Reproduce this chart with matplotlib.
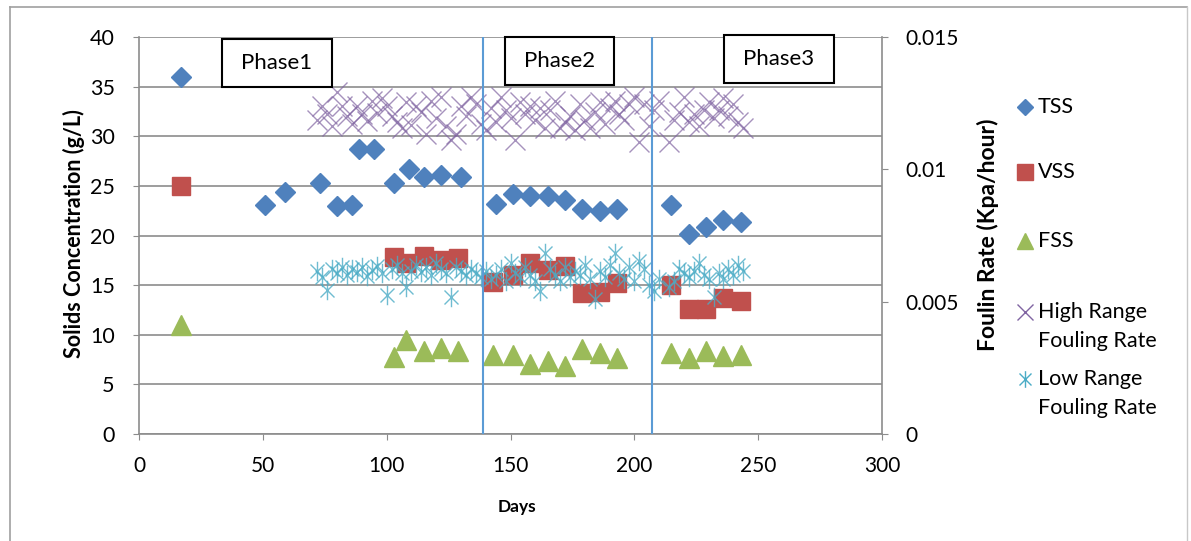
import matplotlib.pyplot as plt
from matplotlib.path import Path
from matplotlib.patches import Rectangle
from matplotlib.lines import Line2D

plt.rcParams["font.family"] = ["Lato", "DejaVu Sans"]

# solids data (g/L)
tss_days = [17, 51, 59, 73, 80, 86, 89, 95, 103, 109, 115, 122, 130, 144, 151, 158,
            165, 172, 179, 186, 193, 215, 222, 229, 236, 243]
tss = [36.0, 23.1, 24.4, 25.3, 23.0, 23.1, 28.7, 28.7, 25.3, 26.7, 25.9, 26.1, 25.9,
       23.2, 24.2, 24.0, 24.0, 23.6, 22.7, 22.5, 22.7, 23.1, 20.2, 20.9, 21.6, 21.4]
solids_days = [17, 103, 108, 115, 122, 129, 143, 151, 158, 165, 172, 179, 186, 193,
               215, 222, 229, 236, 243]
vss = [25.0, 17.8, 17.2, 17.9, 17.5, 17.7, 15.3, 16.0, 17.2, 16.5, 16.9, 14.2, 14.3,
       15.2, 15.0, 12.6, 12.6, 13.7, 13.4]
fss = [11.0, 7.8, 9.5, 8.4, 8.7, 8.4, 8.0, 8.0, 7.1, 7.4, 6.9, 8.6, 8.2, 7.7, 8.2,
       7.7, 8.4, 7.9, 8.0]

# fouling rates (Kpa/hour)
fouling_days = [72, 74, 76, 78, 80, 82, 84, 86, 88, 90, 92, 94, 96, 98, 100, 102, 104,
                106, 108, 110, 112, 114, 116, 118, 120, 122, 124, 126, 128, 130, 132,
                134, 136, 138, 140, 142, 144, 146, 148, 150, 152, 154, 156, 158, 160,
                162, 164, 166, 168, 170, 172, 174, 176, 178, 180, 182, 184, 186, 188,
                190, 192, 194, 196, 198, 200, 202, 204, 206, 208, 210, 214, 216, 218,
                220, 222, 224, 226, 228, 230, 232, 234, 236, 238, 240, 242, 244]
high_rate = [0.01185, 0.01238, 0.01208, 0.01163, 0.01294, 0.01238, 0.01200, 0.01170,
             0.01238, 0.01208, 0.01181, 0.01260, 0.01211, 0.01268, 0.01238, 0.01200,
             0.01178, 0.01155, 0.01256, 0.01166, 0.01238, 0.01215, 0.01133, 0.01260,
             0.01193, 0.01275, 0.01163, 0.01110, 0.01133, 0.01238, 0.01200, 0.01275,
             0.01245, 0.01170, 0.01148, 0.01230, 0.01178, 0.01275, 0.01223, 0.01193,
             0.01110, 0.01253, 0.01208, 0.01238, 0.01185, 0.01230, 0.01155, 0.01223,
             0.01260, 0.01155, 0.01178, 0.01200, 0.01148, 0.01245, 0.01185, 0.01155,
             0.01215, 0.01253, 0.01170, 0.01230, 0.01260, 0.01208, 0.01185, 0.01245,
             0.01275, 0.01103, 0.01245, 0.01163, 0.01223, 0.01260, 0.01103, 0.01185,
             0.01215, 0.01275, 0.01178, 0.01208, 0.01163, 0.01223, 0.01253, 0.01193,
             0.01223, 0.01268, 0.01200, 0.01245, 0.01178, 0.01155]
low_rate = [0.00615, 0.00593, 0.00544, 0.00623, 0.00608, 0.00630, 0.00600, 0.00623,
            0.00611, 0.00630, 0.00596, 0.00619, 0.00634, 0.00608, 0.00525, 0.00623,
            0.00638, 0.00608, 0.00555, 0.00615, 0.00638, 0.00611, 0.00630, 0.00600,
            0.00645, 0.00623, 0.00608, 0.00518, 0.00630, 0.00615, 0.00600, 0.00623,
            0.00608, 0.00593, 0.00615, 0.00585, 0.00600, 0.00623, 0.00578, 0.00645,
            0.00608, 0.00593, 0.00630, 0.00600, 0.00578, 0.00540, 0.00683, 0.00623,
            0.00600, 0.00578, 0.00630, 0.00593, 0.00615, 0.00600, 0.00638, 0.00585,
            0.00510, 0.00615, 0.00593, 0.00638, 0.00683, 0.00608, 0.00585, 0.00630,
            0.00578, 0.00653, 0.00623, 0.00563, 0.00540, 0.00585, 0.00555, 0.00578,
            0.00623, 0.00608, 0.00593, 0.00615, 0.00645, 0.00600, 0.00585, 0.00518,
            0.00608, 0.00585, 0.00623, 0.00600, 0.00638, 0.00615]

phase_bounds = [139, 207]
phase_labels = ["Phase1", "Phase2", "Phase3"]
legend_labels = ["TSS", "VSS", "FSS", "High Range\nFouling Rate", "Low Range\nFouling Rate"]

c_tss, c_vss, c_fss = "#4F81BD", "#C0504D", "#9BBB59"
c_high, c_low = "#8064A2", "#4BACC6"
grid_c = "#8c8c8c"

asterisk = Path([(0, -1), (0, 1), (-0.72, -0.72), (0.72, 0.72), (-0.72, 0.72), (0.72, -0.72)],
                [Path.MOVETO, Path.LINETO] * 3)

W, H = 1191, 541
fig = plt.figure(figsize=(W / 100, H / 100), dpi=100)
ax = fig.add_axes([139 / W, 1 - 434 / H, (882 - 139) / W, (434 - 37) / H])

ax.plot(tss_days, tss, "D", color=c_tss, ms=10.5, ls="none", zorder=3)
ax.plot(solids_days, vss, "s", color=c_vss, ms=13, ls="none", zorder=3)
ax.plot(solids_days, fss, "^", color=c_fss, ms=14, ls="none", zorder=3)

ax.set_xlim(0, 300)
ax.set_ylim(0, 40)
ax.set_xticks(range(0, 301, 50))
ax.set_yticks(range(0, 41, 5))
ax.yaxis.grid(True, color=grid_c, lw=1.2)
ax.set_axisbelow(True)
for s in ["top", "right"]:
    ax.spines[s].set_visible(False)
for s in ["left", "bottom"]:
    ax.spines[s].set_color(grid_c)
    ax.spines[s].set_linewidth(1.2)
ax.tick_params(axis="y", direction="out", length=4, color=grid_c, labelsize=15.5, pad=13.5)
ax.tick_params(axis="x", direction="out", length=4, color=grid_c, labelsize=15, pad=12)
ax.set_xlabel("Days", fontsize=12.5, fontweight="bold")
ax.xaxis.set_label_coords((517 - 139) / 743, (434 - 499) / 397)
ax.set_ylabel("Solids Concentration (g/L)", fontsize=15.5, fontweight="bold")
ax.yaxis.set_label_coords((85 - 139) / 743, (434 - 234) / 397)

ax2 = ax.twinx()
ax2.plot(fouling_days, high_rate, "x", color=c_high, ms=14, mew=1.0, alpha=0.7, ls="none")
ax2.plot(fouling_days, low_rate, marker=asterisk, color=c_low, ms=14, mew=1.0, alpha=0.8, ls="none")
ax2.set_ylim(0, 0.015)
ax2.set_yticks([0, 0.005, 0.01, 0.015])
ax2.set_yticklabels(["0", "0.005", "0.01", "0.015"])
for s in ["top", "left", "bottom"]:
    ax2.spines[s].set_visible(False)
ax2.spines["right"].set_color(grid_c)
ax2.spines["right"].set_linewidth(1.2)
ax2.tick_params(axis="y", direction="out", length=4, color=grid_c, labelsize=15, pad=13)
ax2.set_ylabel("Foulin Rate (Kpa/hour)", fontsize=16.5, fontweight="bold")
ax2.yaxis.set_label_coords((977 - 139) / 743, (434 - 235) / 397)

for b in phase_bounds:
    ax2.axvline(b, color="#5B9BD5", lw=1.5, zorder=5)

# phase boxes (figure pixel coords)
boxes = [(222, 39, 332, 87), (505, 37, 614, 85), (724, 35, 834, 83)]
for (x0, y0, x1, y1), lab in zip(boxes, phase_labels):
    fig.add_artist(Rectangle((x0 / W, 1 - y1 / H), (x1 - x0) / W, (y1 - y0) / H,
                             transform=fig.transFigure, facecolor="white",
                             edgecolor="black", lw=1.5, zorder=10))
    fig.text((x0 + x1) / 2 / W, 1 - (y0 + y1) / 2 / H, lab, ha="center", va="center",
             fontsize=16, zorder=11)

# legend, laid out like the Excel one
handles = [
    dict(marker="D", color=c_tss, ms=8.5),
    dict(marker="s", color=c_vss, ms=12),
    dict(marker="^", color=c_fss, ms=12),
    dict(marker="x", color=c_high, ms=12, mew=1.0),
    dict(marker=asterisk, color=c_low, ms=12, mew=1.0),
]
entry_y = [107, 172, 241, 312, 379]
for y, h, lab in zip(entry_y, handles, legend_labels):
    fig.add_artist(Line2D([1025 / W], [1 - y / H], ls="none", **h))
    for i, line in enumerate(lab.split("\n")):
        fig.text(1038 / W, 1 - (y + 29 * i) / H, line, ha="left", va="center", fontsize=15.5)

# outer chart frame
fig.add_artist(Line2D([10 / W, 10 / W], [0, 1 - 7 / H], color="#a0a0a0", lw=1.2))
fig.add_artist(Line2D([10 / W, 1187 / W], [1 - 7 / H, 1 - 7 / H], color="#a0a0a0", lw=1.2))
fig.add_artist(Line2D([1187 / W, 1187 / W], [0, 1 - 7 / H], color="#c8c8c8", lw=1.0))

fig.savefig("out.png", dpi=100)
